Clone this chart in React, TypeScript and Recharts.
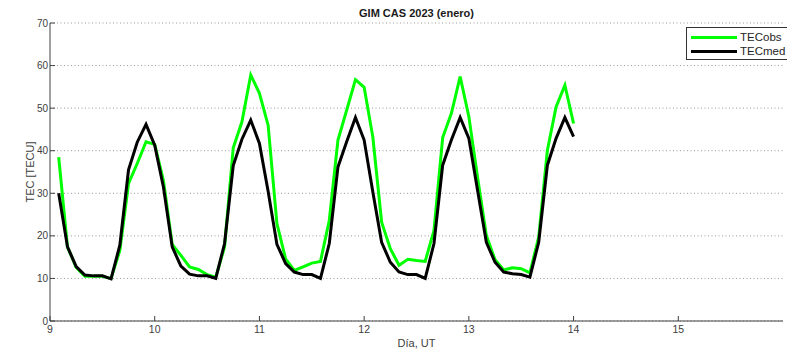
import { LineChart, Line, XAxis, YAxis, CartesianGrid, Legend } from "recharts";

// UT day (every 2 hours), 9-14 enero 2023
const tiempo = [
  9.083, 9.167, 9.25, 9.333, 9.417, 9.5, 9.583, 9.667, 9.75, 9.833, 9.917, 10.0,
  10.083, 10.167, 10.25, 10.333, 10.417, 10.5, 10.583, 10.667, 10.75, 10.833, 10.917, 11.0,
  11.083, 11.167, 11.25, 11.333, 11.417, 11.5, 11.583, 11.667, 11.75, 11.833, 11.917, 12.0,
  12.083, 12.167, 12.25, 12.333, 12.417, 12.5, 12.583, 12.667, 12.75, 12.833, 12.917, 13.0,
  13.083, 13.167, 13.25, 13.333, 13.417, 13.5, 13.583, 13.667, 13.75, 13.833, 13.917, 14.0,
];

const tecObs = [
  38.5, 17.4, 12.6, 10.5, 10.5, 10.5, 10.0, 16.6, 32.3, 37.0, 42.1, 41.5,
  33.0, 18.0, 15.4, 12.7, 12.1, 10.9, 10.3, 17.4, 40.7, 46.8, 57.8, 53.5,
  46.0, 22.9, 14.6, 11.9, 12.7, 13.6, 14.0, 23.6, 42.5, 49.5, 56.7, 54.9,
  43.2, 23.2, 17.0, 13.1, 14.5, 14.2, 14.0, 21.3, 43.1, 48.8, 57.4, 48.0,
  33.8, 20.1, 14.4, 12.0, 12.5, 12.3, 11.3, 19.7, 40.1, 50.3, 55.4, 46.4,
];

const tecMed = [
  30.0, 17.4, 12.8, 10.8, 10.6, 10.6, 9.9, 17.8, 35.5, 42.0, 46.2, 41.3,
  31.5, 17.4, 12.9, 11.0, 10.6, 10.6, 10.0, 18.2, 36.5, 42.7, 47.2, 41.7,
  30.5, 18.0, 13.5, 11.5, 10.9, 10.9, 10.0, 18.2, 36.2, 42.1, 47.8, 42.5,
  30.3, 18.5, 13.8, 11.5, 10.9, 10.9, 10.0, 18.2, 36.6, 42.5, 47.8, 42.9,
  30.7, 18.5, 13.8, 11.5, 11.1, 10.9, 10.3, 18.5, 36.6, 42.9, 47.8, 43.3,
];

const xTicks = [9, 10, 11, 12, 13, 14, 15];
const yTicks = [0, 10, 20, 30, 40, 50, 60, 70];

const data = tiempo.map((t, i) => ({ t, obs: tecObs[i], med: tecMed[i] }));

const FONT = '"Liberation Sans", Arial, sans-serif';
const AXIS = "#404040";

function LegendBox() {
  const rows = [
    { name: "TECobs", color: "#00ff00" },
    { name: "TECmed", color: "#000000" },
  ];
  return (
    <div
      style={{
        border: "1px solid #333",
        background: "#fff",
        width: 120,
        height: 33,
        boxSizing: "border-box",
        paddingTop: 2,
        fontFamily: FONT,
        fontSize: 11.5,
        color: "#262626",
      }}
    >
      {rows.map((r) => (
        <div key={r.name} style={{ display: "flex", alignItems: "center", height: 14 }}>
          <span style={{ display: "inline-block", marginLeft: 4, width: 46, height: 3, background: r.color }} />
          <span style={{ marginLeft: 3 }}>{r.name}</span>
        </div>
      ))}
    </div>
  );
}

export default function App() {
  return (
    <div style={{ position: "absolute", left: 0, top: 0, width: 787, height: 349, overflow: "hidden", background: "#fff" }}>
      <div
        style={{
          position: "absolute",
          top: 7,
          left: 50,
          width: 733,
          textAlign: "center",
          fontFamily: FONT,
          fontWeight: "bold",
          fontSize: 11,
          color: "#1a1a1a",
        }}
      >
        GIM CAS 2023 (enero)
      </div>
      <LineChart width={787} height={349} data={data} margin={{ top: 23, right: 4, bottom: 0, left: 0 }}>
        <CartesianGrid vertical={false} stroke="#9a9a9a" strokeDasharray="1 2.5" />
        <XAxis
          dataKey="t"
          type="number"
          domain={[9, 16]}
          ticks={xTicks}
          height={28}
          tickSize={-5}
          tickMargin={10}
          stroke={AXIS}
          tick={{ fill: AXIS, fontSize: 10.5, fontFamily: FONT }}
          label={{ value: "Día, UT", position: "insideBottom", offset: 2, fill: AXIS, fontSize: 11, fontFamily: FONT }}
        />
        <XAxis xAxisId="top" orientation="top" type="number" domain={[9, 16]} ticks={xTicks} height={0} tickSize={-5} tick={false} stroke={AXIS} />
        <YAxis
          type="number"
          domain={[0, 70]}
          ticks={yTicks}
          width={50}
          tickSize={-5}
          tickMargin={7}
          stroke={AXIS}
          tick={{ fill: AXIS, fontSize: 10, fontFamily: FONT }}
          label={({ viewBox }: any) => (
            <text
              x={viewBox.x + 34}
              y={viewBox.y + viewBox.height / 2}
              transform={`rotate(-90 ${viewBox.x + 34} ${viewBox.y + viewBox.height / 2})`}
              textAnchor="middle"
              fill={AXIS}
              fontSize={11}
              fontFamily={FONT}
            >
              TEC [TECU]
            </text>
          )}
        />
        <YAxis yAxisId="right" orientation="right" type="number" domain={[0, 70]} ticks={yTicks} width={0} tickSize={-5} tick={false} stroke={AXIS} />
        <Legend
          layout="horizontal"
          verticalAlign="middle"
          align="center"
          content={() => <LegendBox />}
          wrapperStyle={{ position: "absolute", left: 686, top: 27, width: 120, height: 33 }}
        />
        <Line type="linear" dataKey="obs" name="TECobs" stroke="#00ff00" strokeWidth={3} dot={false} isAnimationActive={false} />
        <Line type="linear" dataKey="med" name="TECmed" stroke="#000000" strokeWidth={3} dot={false} isAnimationActive={false} />
      </LineChart>
    </div>
  );
}
